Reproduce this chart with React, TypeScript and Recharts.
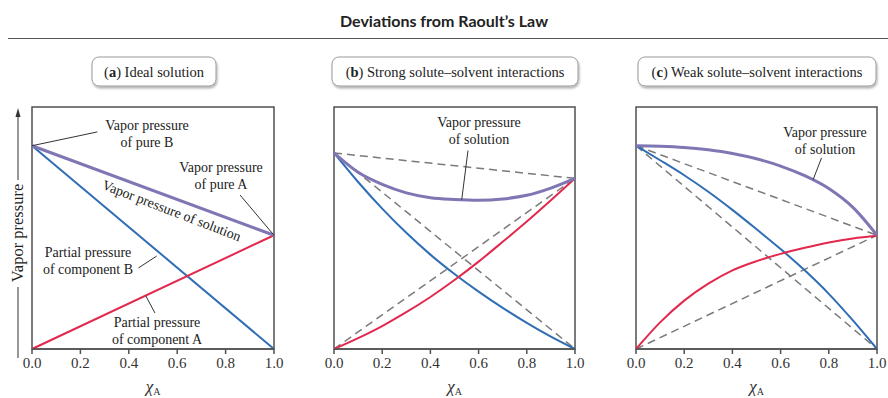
import React from 'react';
import { LineChart, Line, XAxis, YAxis, ReferenceArea, ReferenceLine } from 'recharts';

const SERIF = '"Liberation Serif", "Times New Roman", serif';
const BLUE = '#2f6db5';
const RED = '#e2294d';
const PURPLE = '#7f77b4';
const DASH = '#7a7a7a';
const FRAME = '#505050';

const xTicks = [0, 0.2, 0.4, 0.6, 0.8, 1.0];
const xs = [0, 0.1, 0.2, 0.3, 0.4, 0.5, 0.6, 0.7, 0.8, 0.9, 1.0];
const ends = [0, 1];

// (a) ideal solution – straight lines between the pure-component pressures
const aPartialB = [84, 0];
const aPartialA = [0, 47];
const aSolution = [84, 47];

// (b) strong solute-solvent interactions (negative deviation)
const bPartialB = [81, 69, 58, 48, 39, 31, 23.7, 17, 10.8, 5.1, 0];
const bPartialA = [0, 4.5, 9.5, 15.2, 21.5, 28.5, 36.1, 44.3, 52.7, 61.5, 70.5];
const bSolution = [81, 73, 68, 64.5, 62.5, 61.8, 61.5, 62, 63.5, 66.5, 70.5];
const bIdealB = [81, 0];
const bIdealA = [0, 70.5];
const bIdealSol = [81, 70.5];

// (c) weak solute-solvent interactions (positive deviation)
const cPartialB = [84, 78, 71.8, 65, 57.5, 49.5, 41.3, 32.5, 22.8, 11.8, 0];
const cPartialA = [0, 11, 20, 27, 32.5, 36.3, 39.3, 41.8, 44, 45.7, 46.8];
const cSolution = [84, 83.8, 83.3, 82.3, 80.8, 78.6, 75.6, 71.6, 66.3, 58.5, 47];
const cIdealB = [84, 0];
const cIdealA = [0, 47];
const cIdealSol = [84, 47];

const rows = (x: number[], y: number[]) => x.map((v, i) => ({ x: v, y: y[i] }));

type Seg = [{ x: number; y: number }, { x: number; y: number }];
type Curve = { id: string; data: { x: number; y: number }[]; color: string; width: number; dashed?: boolean; type?: 'linear' | 'monotone' };

const XLabel = (props: any) => {
  const vb = props.viewBox || {};
  const cx = vb.x + vb.width / 2;
  return (
    <text x={cx} y={vb.y + 43} textAnchor="middle" fontFamily={SERIF} fill="#333">
      <tspan fontStyle="italic" fontSize={17}>χ</tspan>
      <tspan fontSize={10} dy={3}>A</tspan>
    </text>
  );
};

function Panel({ left, width, curves, leaders }: { left: number; width: number; curves: Curve[]; leaders: Seg[] }) {
  return (
    <div style={{ position: 'absolute', left: left - 20, top: 100 }}>
      <LineChart width={width + 40} height={299} margin={{ top: 7, right: 20, left: 20, bottom: 0 }}>
        <XAxis
          dataKey="x"
          type="number"
          domain={[0, 1]}
          ticks={xTicks}
          tickFormatter={(v: number) => v.toFixed(1)}
          height={50}
          stroke={FRAME}
          strokeWidth={1.5}
          tickSize={5}
          tickMargin={3}
          tick={{ fill: '#333', fontSize: 15, fontFamily: SERIF }}
          label={{ content: XLabel }}
        />
        <YAxis type="number" domain={[0, 100]} hide />
        <ReferenceArea x1={0} x2={1} y1={0} y2={100} fill="none" stroke={FRAME} strokeWidth={1.5} />
        {curves.map((c) => (
          <Line
            key={c.id}
            data={c.data}
            dataKey="y"
            type={c.type || 'monotone'}
            stroke={c.color}
            strokeWidth={c.width}
            strokeDasharray={c.dashed ? '8 5' : undefined}
            dot={false}
            activeDot={false}
            isAnimationActive={false}
          />
        ))}
        {leaders.map((s, i) => (
          <ReferenceLine key={i} segment={s} stroke="#333" strokeWidth={1} />
        ))}
      </LineChart>
    </div>
  );
}

const panelA: Curve[] = [
  { id: 'aB', data: rows(ends, aPartialB), color: BLUE, width: 2, type: 'linear' },
  { id: 'aA', data: rows(ends, aPartialA), color: RED, width: 2, type: 'linear' },
  { id: 'aS', data: rows(ends, aSolution), color: PURPLE, width: 3, type: 'linear' },
];

const panelB: Curve[] = [
  { id: 'bIB', data: rows(ends, bIdealB), color: DASH, width: 1.5, dashed: true, type: 'linear' },
  { id: 'bIA', data: rows(ends, bIdealA), color: DASH, width: 1.5, dashed: true, type: 'linear' },
  { id: 'bIS', data: rows(ends, bIdealSol), color: DASH, width: 1.5, dashed: true, type: 'linear' },
  { id: 'bB', data: rows(xs, bPartialB), color: BLUE, width: 2 },
  { id: 'bA', data: rows(xs, bPartialA), color: RED, width: 2 },
  { id: 'bS', data: rows(xs, bSolution), color: PURPLE, width: 3 },
];

const panelC: Curve[] = [
  { id: 'cIB', data: rows(ends, cIdealB), color: DASH, width: 1.5, dashed: true, type: 'linear' },
  { id: 'cIA', data: rows(ends, cIdealA), color: DASH, width: 1.5, dashed: true, type: 'linear' },
  { id: 'cIS', data: rows(ends, cIdealSol), color: DASH, width: 1.5, dashed: true, type: 'linear' },
  { id: 'cB', data: rows(xs, cPartialB), color: BLUE, width: 2 },
  { id: 'cA', data: rows(xs, cPartialA), color: RED, width: 2 },
  { id: 'cS', data: rows(xs, cSolution), color: PURPLE, width: 3 },
];

const leadersA: Seg[] = [
  [{ x: 0, y: 84 }, { x: 0.27, y: 89.7 }],
  [{ x: 0.86, y: 63.6 }, { x: 1, y: 47 }],
  [{ x: 0.44, y: 33.5 }, { x: 0.515, y: 38.4 }],
  [{ x: 0.47, y: 22 }, { x: 0.508, y: 14.9 }],
];
const leadersB: Seg[] = [[{ x: 0.556, y: 82 }, { x: 0.53, y: 61.7 }]];
const leadersC: Seg[] = [[{ x: 0.77, y: 79 }, { x: 0.735, y: 70 }]];

const Tag = ({ cx, w, letter, text }: { cx: number; w: number; letter: string; text: string }) => (
  <g>
    <rect x={cx - w / 2} y={57} width={w} height={29} rx={7} fill="#fff" stroke="#9a9a9a" filter="url(#sh)" />
    <text x={cx} y={77} textAnchor="middle" fontFamily={SERIF} fontSize={14.5} fill="#222">
      (<tspan fontWeight={700}>{letter}</tspan>) {text}
    </text>
  </g>
);

const Note = ({ x, y, lines }: { x: number; y: number; lines: string[] }) => (
  <text x={x} y={y} textAnchor="middle" fontFamily={SERIF} fontSize={14} fill="#222">
    {lines.map((l, i) => (
      <tspan key={i} x={x} dy={i === 0 ? 0 : 16.5}>{l}</tspan>
    ))}
  </text>
);

export default function App() {
  return (
    <div style={{ position: 'absolute', left: 0, top: 0, width: 888, height: 398, overflow: 'hidden', background: '#fff', fontFamily: SERIF }}>
      <Panel left={32} width={242} curves={panelA} leaders={leadersA} />
      <Panel left={334} width={241} curves={panelB} leaders={leadersB} />
      <Panel left={636} width={241} curves={panelC} leaders={leadersC} />
      <svg width={888} height={398} style={{ position: 'absolute', left: 0, top: 0, pointerEvents: 'none' }}>
        <defs>
          <filter id="sh" x="-10%" y="-20%" width="120%" height="160%">
            <feDropShadow dx="1" dy="2" stdDeviation="1.2" floodColor="#000" floodOpacity="0.3" />
          </filter>
        </defs>
        <text x={444} y={27} textAnchor="middle" fontFamily="Lato, sans-serif" fontWeight={700} fontSize={16} fill="#222">
          Deviations from Raoult’s Law
        </text>
        <line x1={8} y1={38.5} x2={888} y2={38.5} stroke="#555" strokeWidth={1} />

        <Tag cx={154} w={124} letter="a" text="Ideal solution" />
        <Tag cx={455} w={246} letter="b" text="Strong solute–solvent interactions" />
        <Tag cx={757} w={238} letter="c" text="Weak solute–solvent interactions" />

        {/* y axis title with arrow */}
        <line x1={18} y1={116} x2={18} y2={180} stroke="#333" strokeWidth={1} />
        <polygon points="18,108 15.5,117 20.5,117" fill="#333" />
        <line x1={18} y1={287} x2={18} y2={358} stroke="#333" strokeWidth={1} />
        <text x={0} y={0} transform="translate(23,233) rotate(-90)" textAnchor="middle" fontFamily={SERIF} fontSize={16.5} fill="#222">
          Vapor pressure
        </text>

        {/* panel (a) notes */}
        <Note x={147} y={130} lines={['Vapor pressure', 'of pure B']} />
        <Note x={221} y={172} lines={['Vapor pressure', 'of pure A']} />
        <Note x={88} y={257} lines={['Partial pressure', 'of component B']} />
        <Note x={157} y={327} lines={['Partial pressure', 'of component A']} />
        <text x={0} y={0} transform="translate(170,215) rotate(21)" textAnchor="middle" fontFamily={SERIF} fontSize={14} fill="#222">
          Vapor pressure of solution
        </text>

        {/* panel (b) and (c) notes */}
        <Note x={479} y={127} lines={['Vapor pressure', 'of solution']} />
        <Note x={825} y={137} lines={['Vapor pressure', 'of solution']} />
      </svg>
    </div>
  );
}
